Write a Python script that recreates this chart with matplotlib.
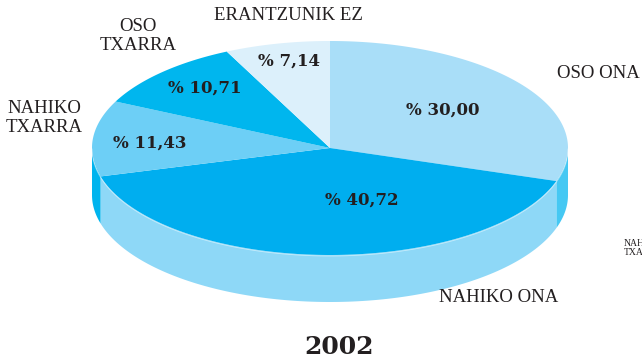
import numpy as np
import matplotlib
matplotlib.use('Agg')
import matplotlib.pyplot as plt
from matplotlib.patches import Polygon

# survey answers, clockwise from the top of the pie
labels = ['OSO ONA', 'NAHIKO ONA', 'NAHIKO\nTXARRA', 'OSO\nTXARRA', 'ERANTZUNIK EZ']
values = [30.00, 40.72, 11.43, 10.71, 7.14]
value_texts = ['% 30,00', '% 40,72', '% 11,43', '% 10,71', '% 7,14']
year = '2002'

top_colors = ['#a9def8', '#00aeef', '#6dcff6', '#00b6ee', '#dcf0fb']
side_colors = ['#45c8f3', '#8ed8f7', '#00b4ee', '#00b4ee', '#dcf0fb']

# pie geometry in pixels (y grows downwards)
cx, cy = 330, 148
rx, ry = 238, 107
depth = 47


def arc(t0, t1, dy=0, n=120):
    t = np.radians(np.linspace(t0, t1, n))
    return np.column_stack([cx + rx * np.cos(t), cy - ry * np.sin(t) + dy])


fig = plt.figure(figsize=(6.42, 3.61), dpi=100)
ax = fig.add_axes([0, 0, 1, 1])
ax.set_xlim(0, 642)
ax.set_ylim(361, 0)
ax.axis('off')

spans = np.array(values) / sum(values) * 360
starts = 90 - np.concatenate([[0], np.cumsum(spans)[:-1]])
ends = starts - spans

# side walls, only the front half (-180..0) can be seen
for s, e, c in zip(starts, ends, side_colors):
    a, b = min(s, 0), max(e, -180)
    if a <= b:
        continue
    upper = arc(a, b)
    lower = arc(b, a, dy=depth)
    ax.add_patch(Polygon(np.vstack([upper, lower]), closed=True,
                         facecolor=c, edgecolor='none'))

# top faces
for s, e, c in zip(starts, ends, top_colors):
    pts = np.vstack([[cx, cy], arc(s, e)])
    ax.add_patch(Polygon(pts, closed=True, facecolor=c, edgecolor='none'))

rim = arc(0, -180)
ax.plot(rim[:, 0], rim[:, 1] + 1, color='white', lw=0.6, alpha=0.5)

value_pos = [(443, 110), (362, 200), (150, 143), (205, 88), (289, 61)]
for (x, y), t in zip(value_pos, value_texts):
    ax.text(x, y, t, ha='center', va='center', fontsize=12,
            fontweight='bold', family='DejaVu Serif', color='#231f20')

label_pos = [(598, 74), (499, 298), (44, 118), (138, 36), (288, 16)]
for (x, y), t in zip(label_pos, labels):
    ax.text(x, y, t, ha='center', va='center', fontsize=13.5,
            family='Liberation Serif', color='#231f20', linespacing=1.1)

# small label running off the right edge
ax.text(624, 248, 'NAHIKO\nTXARRA', ha='left', va='center', fontsize=7,
        family='Liberation Serif', color='#231f20', linespacing=1.0)

ax.text(339, 347, year, ha='center', va='center', fontsize=18,
        fontweight='bold', family='DejaVu Serif', color='#231f20')

fig.savefig('out.png', dpi=100)
